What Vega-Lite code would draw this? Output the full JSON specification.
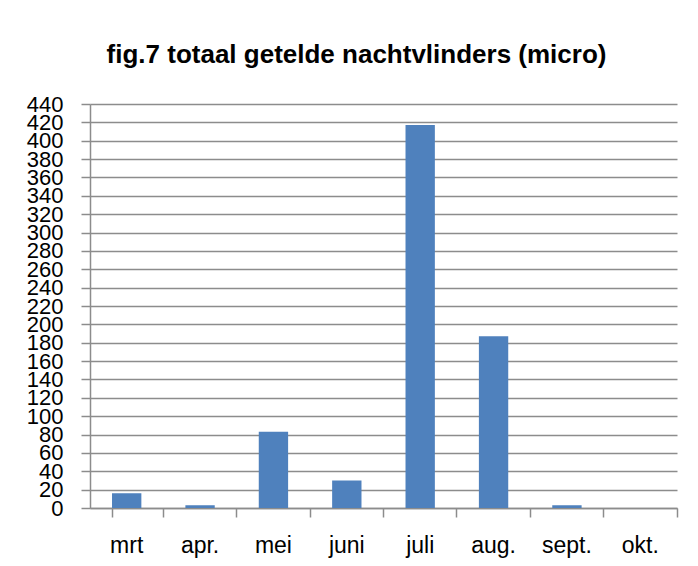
{
  "$schema": "https://vega.github.io/schema/vega-lite/v6.json",
  "width": 587,
  "height": 404,
  "autosize": "none",
  "padding": {"left": 90, "top": 104, "right": 21, "bottom": 58},
  "background": "white",
  "title": {
    "text": "fig.7 totaal getelde nachtvlinders (micro)",
    "fontSize": 26,
    "font": "Liberation Sans",
    "fontWeight": "bold",
    "color": "#000000",
    "anchor": "middle",
    "dx": -27,
    "offset": 25
  },
  "data": {
    "values": [
      {"maand": "mrt", "aantal": 16},
      {"maand": "apr.", "aantal": 3},
      {"maand": "mei", "aantal": 83},
      {"maand": "juni", "aantal": 30},
      {"maand": "juli", "aantal": 417},
      {"maand": "aug.", "aantal": 187},
      {"maand": "sept.", "aantal": 3},
      {"maand": "okt.", "aantal": 0}
    ]
  },
  "mark": {"type": "bar", "color": "#4F81BD"},
  "encoding": {
    "x": {
      "field": "maand",
      "type": "nominal",
      "sort": null,
      "scale": {"paddingInner": 0.6, "paddingOuter": 0.3},
      "axis": {
        "title": null,
        "labelAngle": 0,
        "labelFont": "Liberation Sans",
        "labelFontSize": 23,
        "labelColor": "#000000",
        "labelPadding": 17,
        "bandPosition": 1.75,
        "tickExtra": true,
        "tickSize": 9,
        "tickColor": "#8c8c8c",
        "domainColor": "#8c8c8c",
        "domainWidth": 1.5,
        "tickWidth": 1.5,
        "grid": false
      }
    },
    "y": {
      "field": "aantal",
      "type": "quantitative",
      "scale": {"domain": [0, 440], "nice": false},
      "axis": {
        "title": null,
        "values": [0,20,40,60,80,100,120,140,160,180,200,220,240,260,280,300,320,340,360,380,400,420,440],
        "labelFont": "Liberation Sans",
        "labelFontSize": 22,
        "labelColor": "#000000",
        "labelPadding": 18,
        "labelOverlap": false,
        "labelBaseline": "middle",
        "tickSize": 9,
        "tickColor": "#8c8c8c",
        "tickWidth": 1.5,
        "domainColor": "#8c8c8c",
        "domainWidth": 1.5,
        "grid": true,
        "gridColor": "#8c8c8c",
        "gridWidth": 1.5
      }
    }
  },
  "config": {"view": {"stroke": null}}
}
